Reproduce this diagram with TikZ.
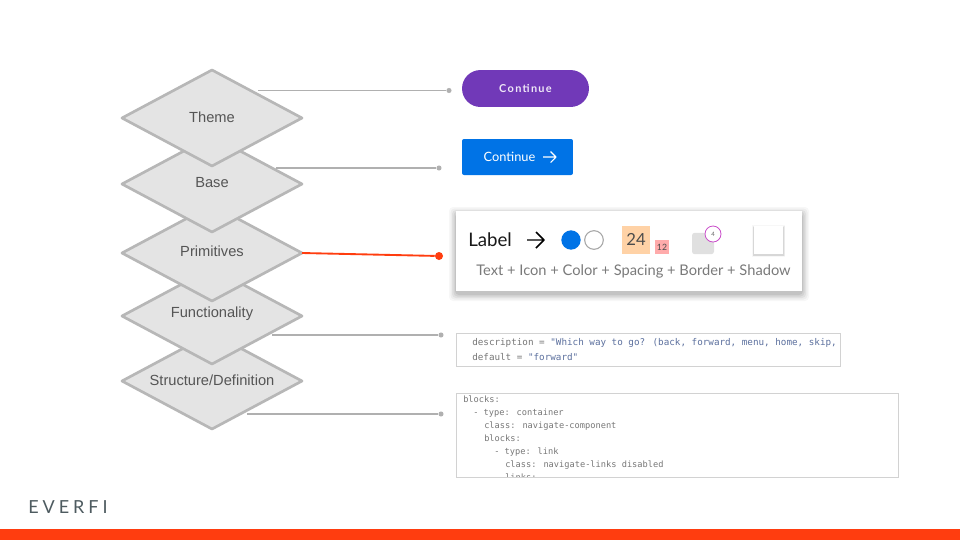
\documentclass[tikz,border=0pt]{standalone}
\usepackage{fontspec}
\setmainfont{Lato}
\newfontfamily\diagfont{Liberation Sans}
\newfontfamily\codefont{DejaVu Sans Mono}
\newfontfamily\spacedfont[LetterSpace=12]{Lato}
\newfontfamily\logofont[LetterSpace=22]{Lato}
\definecolor{fillgray}{HTML}{E4E4E4}
\definecolor{edgegray}{HTML}{B7B7B7}
\definecolor{linegray}{HTML}{B0B0B0}
\definecolor{txtgray}{HTML}{555555}
\definecolor{signal}{HTML}{FF3D0F}
\definecolor{purplebtn}{HTML}{7139B8}
\definecolor{bluebtn}{HTML}{0073E6}
\definecolor{codegray}{HTML}{777777}
\definecolor{codeblue}{HTML}{5C709E}
\definecolor{boxgray}{HTML}{D2D2D2}
\definecolor{capgray}{HTML}{7A7A7A}
\definecolor{logogray}{HTML}{4E5B60}
\usetikzlibrary{shapes.geometric}
\tikzset{
  layer/.style={diamond,draw=edgegray,fill=fillgray,line width=2pt,line join=round,
    minimum width=135pt,minimum height=72pt,inner sep=0pt,outer sep=0pt},
  layertext/.style={text=txtgray,font=\diagfont\fontsize{11}{13}\selectfont,inner sep=0pt},
  link/.style={draw=linegray,line width=0.8pt},
  dotgray/.style={circle,fill=linegray,inner sep=0pt,minimum size=3.8pt},
  dotred/.style={circle,fill=signal,inner sep=0pt,minimum size=6pt},
  codeA/.style={anchor=base west,inner sep=0pt,text=codegray,font=\codefont\fontsize{6.95}{8}\selectfont},
  codeB/.style={anchor=base west,inner sep=0pt,text=codegray,font=\codefont\fontsize{6.5}{8}\selectfont},
  codebox/.style={draw=boxgray,line width=0.7pt,fill=white},
}
\begin{document}
\begin{tikzpicture}[x=0.75pt,y=-0.75pt]
\path[use as bounding box,fill=white] (0,0) rectangle (960,540);
% bottom bar
\fill[signal] (0,529) rectangle (960,540);
% layers
\node[layer] (structure) at (212,381) {};
\node[layer] (functionality) at (212,316) {};
\node[layer] (primitives) at (212,253) {};
\node[layer] (base) at (212,184) {};
\node[layer] (theme) at (212,118) {};
\node[layertext] (themet) at (212,117) {Theme};
\node[layertext] (baset) at (212,182.5) {Base};
\node[layertext] (primt) at (212,251) {Primitives};
\node[layertext] (funct) at (212,314) {Functionality};
\node[layertext] (struct) at (212,380) {Structure/Definition};
% connectors
\coordinate (s1) at (258,90.5);
\coordinate (s2) at (276,168);
\coordinate (s4) at (272,335);
\coordinate (s5) at (247,414);
\node[dotgray] (d1) at (449,90.5) {};
\node[dotgray] (d2) at (439,168) {};
\node[dotred] (d3) at (439,256) {};
\node[dotgray] (d4) at (441,335) {};
\node[dotgray] (d5) at (441,414) {};
\draw[link] (s1) -- (d1);
\draw[link] (s2) -- (d2);
\draw[signal,line width=1.4pt] (primitives.east) -- (d3);
\draw[link] (s4) -- (d4);
\draw[link] (s5) -- (d5);
% purple button
\node[fill=purplebtn,rounded corners=13.8pt,minimum width=95.2pt,minimum height=27.7pt,inner sep=0pt,text=white!88!purplebtn,
  font=\spacedfont\bfseries\fontsize{8.2}{10}\selectfont] (btnA) at (525.5,88.5) {Continue};
% blue button
\node[fill=bluebtn,rounded corners=1.5pt,minimum width=83.2pt,minimum height=27pt,inner sep=0pt] (btnB) at (517.5,157) {};
\node[text=white,inner sep=0pt,font=\fontsize{9.6}{11}\selectfont] (btnBt) at (509.5,157) {Continue};
\draw[white,line width=0.8pt,line join=round] (543,157) -- (556,157) (550.5,151.5) -- (556,157) -- (550.5,162.5);
% card shadow
\foreach \o/\g in {7/3,5.5/4,4/5,2.5/6,1/7}
  \fill[black,opacity=0.0\g,rounded corners=3pt] (456-\o,211+3-\o) rectangle (802+\o,291+3+\o);
\node[fill=white,minimum width=259.5pt,minimum height=60pt,inner sep=0pt] (card) at (629,251) {};
\node[inner sep=0pt,anchor=base west,text=black!90,font=\fontsize{14}{16}\selectfont] (label) at (468,246) {Label};
\draw[black,line width=1.1pt,line join=round] (527,240) -- (543.5,240) (536,232) -- (544,240) -- (536,248);
\node[circle,fill=bluebtn,inner sep=0pt,minimum size=14.5pt] (cblue) at (571,240) {};
\node[circle,draw=black!35,fill=white,line width=0.8pt,inner sep=0pt,minimum size=14pt] (cwhite) at (594,240) {};
\node[fill=orange!20!white,fill=orange!35!white,minimum width=21pt,minimum height=21pt,inner sep=0pt,text=black!70,
  font=\fontsize{12.5}{14}\selectfont] (sp24) at (636,239.5) {24};
\node[fill=red!33!white,minimum width=10.5pt,minimum height=10.5pt,inner sep=0pt,text=black!70,
  font=\fontsize{6.5}{8}\selectfont] (sp12) at (662,247) {12};
\node[fill=black!12,rounded corners=2pt,minimum width=16.5pt,minimum height=16pt,inner sep=0pt] (bd) at (703,243.5) {};
\node[circle,draw=violet!60!magenta!70,fill=white,line width=0.6pt,inner sep=0pt,minimum size=12pt,text=black!60,
  font=\fontsize{4.5}{5}\selectfont] (bd4) at (713,234) {4};
\foreach \o/\g in {2.2/3,1.5/5,0.8/8}
  \fill[black,opacity=0.0\g] (754-\o,226.5-\o+0.8) rectangle (783+\o,254+\o+0.8);
\node[fill=white,minimum width=21.5pt,minimum height=20.5pt,inner sep=0pt] (sh) at (768.5,240) {};
\node[anchor=base west,inner sep=0pt,text=capgray,font=\fontsize{11}{13}\selectfont] (cap) at (476,275) {Text + Icon + Color + Spacing + Border + Shadow};
% code box 1
\node[codebox,anchor=north west,minimum width=288.2pt,minimum height=25.4pt,inner sep=0pt] (box1) at (455.5,332.5) {};
\node[codeA] (c11) at (472,345) {description = {\color{codeblue}"Which way to go? (back, forward, menu, home, skip,}};
\node[codeA] (c12) at (472,360) {default = {\color{codeblue}"forward"}};
% code box 2
\node[codebox,anchor=north west,minimum width=331.5pt,minimum height=63.7pt,inner sep=0pt] (box2) at (455.5,392.5) {};
\begin{scope}
\clip (455,393) rectangle (898,476.5);
\node[codeB] (c21) at (463,402) {blocks:};
\node[codeB] (c22) at (473,415) {- type: container};
\node[codeB] (c23) at (484,428) {class: navigate-component};
\node[codeB] (c24) at (484,441) {blocks:};
\node[codeB] (c25) at (494,454) {- type: link};
\node[codeB] (c26) at (505,467) {class: navigate-links disabled};
\node[codeB] (c27) at (505,480) {links:};
\end{scope}
% logo
\node[anchor=base west,inner sep=0pt,text=logogray,font=\logofont\fontsize{13.5}{15}\selectfont] (logo) at (28,513) {EVERFI};
\end{tikzpicture}
\end{document}
